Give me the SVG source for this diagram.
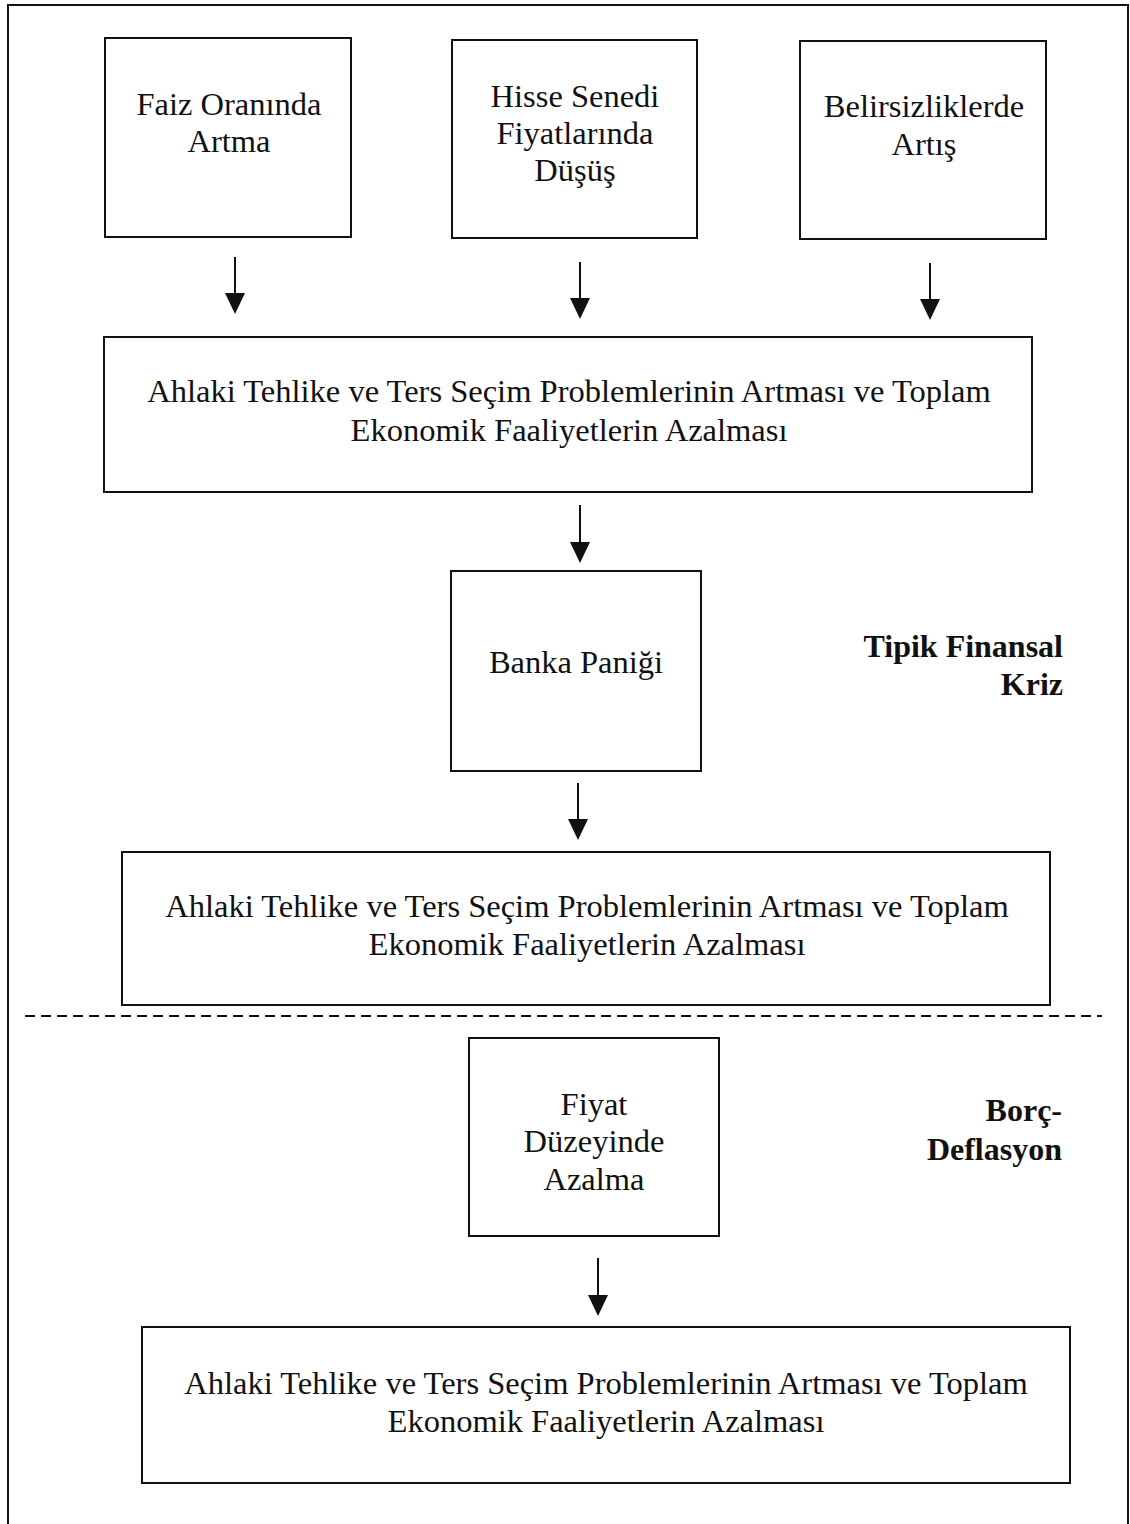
<svg xmlns="http://www.w3.org/2000/svg" width="1130" height="1524" viewBox="0 0 1130 1524">
<style>
.box{fill:#fff;stroke:#111;stroke-width:2}
.t{font-family:"Liberation Serif","Times New Roman",serif;font-size:32.5px;fill:#111;text-anchor:middle}
.b{font-family:"Liberation Serif","Times New Roman",serif;font-size:32px;font-weight:bold;fill:#111;text-anchor:end}
.c{stroke:#111;stroke-width:2;fill:none}
</style>
<rect x="0" y="0" width="1130" height="1524" fill="#fff"/>
<path d="M8,1524 V5 H1128 V1524" class="c"/>
<line x1="25" y1="1016" x2="1102" y2="1016" stroke="#111" stroke-width="2" stroke-dasharray="10,6"/>
<g id="connectors">
<line x1="235" y1="257" x2="235" y2="300" class="c"/><path d="M225,293 L245,293 L235,314 Z" fill="#111"/>
<line x1="580" y1="262" x2="580" y2="305" class="c"/><path d="M570,298 L590,298 L580,319 Z" fill="#111"/>
<line x1="930" y1="263" x2="930" y2="306" class="c"/><path d="M920,299 L940,299 L930,320 Z" fill="#111"/>
<line x1="580" y1="505" x2="580" y2="549" class="c"/><path d="M570,542 L590,542 L580,563 Z" fill="#111"/>
<line x1="578" y1="783" x2="578" y2="826" class="c"/><path d="M568,819 L588,819 L578,840 Z" fill="#111"/>
<line x1="598" y1="1258" x2="598" y2="1302" class="c"/><path d="M588,1295 L608,1295 L598,1316 Z" fill="#111"/>
</g>
<g id="n1"><rect class="box" x="105" y="38" width="246" height="199"/>
<text class="t" x="229" y="115">Faiz Oranında</text><text class="t" x="229" y="152">Artma</text></g>
<g id="n2"><rect class="box" x="452" y="40" width="245" height="198"/>
<text class="t" x="575" y="107">Hisse Senedi</text><text class="t" x="575" y="144">Fiyatlarında</text><text class="t" x="575" y="181">Düşüş</text></g>
<g id="n3"><rect class="box" x="800" y="41" width="246" height="198"/>
<text class="t" x="924" y="117">Belirsizliklerde</text><text class="t" x="924" y="155">Artış</text></g>
<g id="n4"><rect class="box" x="104" y="337" width="928" height="155"/>
<text class="t" x="569" y="402">Ahlaki Tehlike ve Ters Seçim Problemlerinin Artması ve Toplam</text><text class="t" x="569" y="441">Ekonomik Faaliyetlerin Azalması</text></g>
<g id="n5"><rect class="box" x="451" y="571" width="250" height="200"/>
<text class="t" x="576" y="673">Banka Paniği</text></g>
<g id="lbl1"><text class="b" x="1063" y="657">Tipik Finansal</text><text class="b" x="1063" y="695">Kriz</text></g>
<g id="n6"><rect class="box" x="122" y="852" width="928" height="153"/>
<text class="t" x="587" y="917">Ahlaki Tehlike ve Ters Seçim Problemlerinin Artması ve Toplam</text><text class="t" x="587" y="955">Ekonomik Faaliyetlerin Azalması</text></g>
<g id="n7"><rect class="box" x="469" y="1038" width="250" height="198"/>
<text class="t" x="594" y="1115">Fiyat</text><text class="t" x="594" y="1152">Düzeyinde</text><text class="t" x="594" y="1190">Azalma</text></g>
<g id="lbl2"><text class="b" x="1062" y="1121">Borç-</text><text class="b" x="1062" y="1160">Deflasyon</text></g>
<g id="n8"><rect class="box" x="142" y="1327" width="928" height="156"/>
<text class="t" x="606" y="1394">Ahlaki Tehlike ve Ters Seçim Problemlerinin Artması ve Toplam</text><text class="t" x="606" y="1432">Ekonomik Faaliyetlerin Azalması</text></g>
</svg>
